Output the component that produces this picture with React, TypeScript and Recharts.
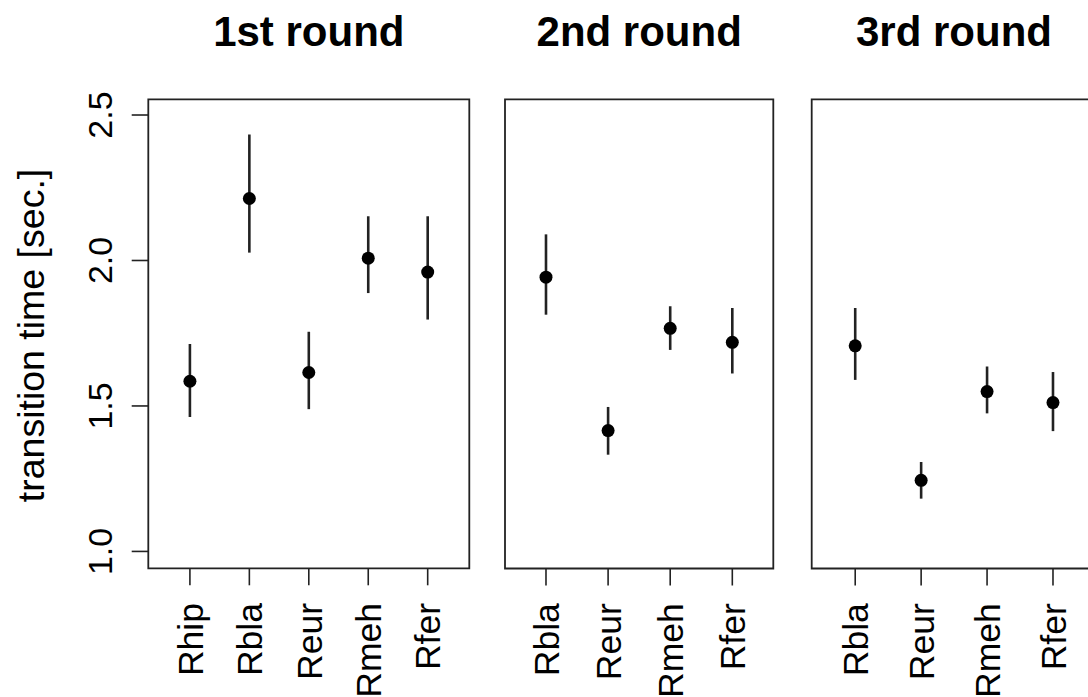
import React from 'react';
import { ScatterChart, Scatter, XAxis, YAxis, ErrorBar, ReferenceArea } from 'recharts';

// values
const yTicks = [1.0, 1.5, 2.0, 2.5];
const yDomain: [number, number] = [0.942, 2.554];

const round1Names = ['Rhip', 'Rbla', 'Reur', 'Rmeh', 'Rfer'];
const round1Mean = [1.585, 2.213, 1.615, 2.008, 1.96];
const round1Low = [1.462, 2.027, 1.489, 1.888, 1.797];
const round1High = [1.713, 2.433, 1.755, 2.152, 2.152];

const round2Names = ['Rbla', 'Reur', 'Rmeh', 'Rfer'];
const round2Mean = [1.943, 1.416, 1.767, 1.719];
const round2Low = [1.814, 1.333, 1.693, 1.612];
const round2High = [2.09, 1.497, 1.843, 1.837];

const round3Names = ['Rbla', 'Reur', 'Rmeh', 'Rfer'];
const round3Mean = [1.707, 1.245, 1.55, 1.512];
const round3Low = [1.59, 1.182, 1.475, 1.414];
const round3High = [1.837, 1.308, 1.636, 1.617];

const titles = ['1st round', '2nd round', '3rd round'];

const FONT = '"Liberation Sans", Arial, Helvetica, sans-serif';
const INK = '#222';

const buildRows = (mean: number[], low: number[], high: number[]) =>
  mean.map((m, i) => ({ pos: i + 1, mean: m, err: [m - low[i], high[i] - m] }));

const XTick = ({ x, y, payload, names }: any) => {
  const tx = x + 12.7;
  return (
    <text
      x={tx}
      y={y}
      transform={`rotate(-90 ${tx} ${y})`}
      textAnchor="end"
      fontSize={35.5}
      fontFamily={FONT}
      fill="#000"
    >
      {names[payload.value - 1]}
    </text>
  );
};

const YTick = ({ x, y, payload }: any) => (
  <text
    x={x}
    y={y}
    transform={`rotate(-90 ${x} ${y})`}
    textAnchor="middle"
    fontSize={34}
    fontFamily={FONT}
    fill="#000"
  >
    {payload.value.toFixed(1)}
  </text>
);

const Dot = ({ cx, cy }: any) => <circle cx={cx} cy={cy} r={6.5} fill="#000" />;

interface PanelProps {
  names: string[];
  mean: number[];
  low: number[];
  high: number[];
  left: number;
  width: number;
  boxLeft: number;
  boxRight: number;
  boxBottom: number;
  xDomain: [number, number];
  showY?: boolean;
}

const Panel: React.FC<PanelProps> = ({
  names, mean, low, high, left, width, boxLeft, boxRight, boxBottom, xDomain, showY = false
}) => {
  const data = buildRows(mean, low, high);
  const height = 697;
  const top = 99.3;
  return (
    <div style={{ position: 'absolute', left, top: 0 }}>
      <ScatterChart
        width={width}
        height={height}
        margin={{ top, right: width - (boxRight - left), bottom: 0, left: showY ? 0 : boxLeft - left }}
      >
        <XAxis
          type="number"
          dataKey="pos"
          domain={xDomain}
          ticks={names.map((_, i) => i + 1)}
          interval={0}
          allowDataOverflow
          axisLine={false}
          tickLine={{ stroke: INK, strokeWidth: 1.6 }}
          tickSize={17}
          tickMargin={17.7}
          height={height - boxBottom}
          tick={<XTick names={names} />}
        />
        <YAxis
          type="number"
          dataKey="mean"
          domain={yDomain}
          ticks={yTicks}
          allowDataOverflow
          hide={!showY}
          width={showY ? boxLeft : 0}
          axisLine={false}
          tickLine={{ stroke: INK, strokeWidth: 1.6 }}
          tickSize={16.6}
          tickMargin={20}
          tick={<YTick />}
        />
        <ReferenceArea
          x1={xDomain[0]}
          x2={xDomain[1]}
          y1={yDomain[0]}
          y2={yDomain[1]}
          fill="none"
          fillOpacity={0}
          stroke={INK}
          strokeWidth={1.8}
          strokeOpacity={1}
        />
        <Scatter data={data} shape={<Dot />} isAnimationActive={false}>
          <ErrorBar dataKey="err" direction="y" width={0} stroke="#222" strokeWidth={2.6} isAnimationActive={false} />
        </Scatter>
      </ScatterChart>
    </div>
  );
};

const App: React.FC = () => {
  return (
    <div
      style={{
        position: 'absolute',
        left: 0,
        top: 0,
        width: 1088,
        height: 697,
        overflow: 'hidden',
        background: '#fff'
      }}
    >
      <Panel
        names={round1Names}
        mean={round1Mean}
        low={round1Low}
        high={round1High}
        left={0}
        width={480}
        boxLeft={148.3}
        boxRight={469.3}
        boxBottom={568.3}
        xDomain={[0.3, 5.7]}
        showY
      />
      <Panel
        names={round2Names}
        mean={round2Mean}
        low={round2Low}
        high={round2High}
        left={495}
        width={290}
        boxLeft={505}
        boxRight={773.3}
        boxBottom={568.5}
        xDomain={[0.34, 4.66]}
      />
      <Panel
        names={round3Names}
        mean={round3Mean}
        low={round3Low}
        high={round3High}
        left={800}
        width={300}
        boxLeft={811.7}
        boxRight={1096.5}
        boxBottom={568.5}
        xDomain={[0.34, 4.66]}
      />
      <svg
        width={1088}
        height={697}
        style={{ position: 'absolute', left: 0, top: 0, pointerEvents: 'none' }}
      >
        {titles.map((t, i) => (
          <text
            key={t}
            x={[308.8, 639.2, 954][i]}
            y={46}
            textAnchor="middle"
            fontSize={42}
            fontWeight="bold"
            fontFamily={FONT}
            fill="#000"
          >
            {t}
          </text>
        ))}
        <text
          x={44}
          y={335.5}
          transform="rotate(-90 44 335.5)"
          textAnchor="middle"
          fontSize={37.5}
          fontFamily={FONT}
          fill="#000"
        >
          transition time [sec.]
        </text>
      </svg>
    </div>
  );
};

export default App;
